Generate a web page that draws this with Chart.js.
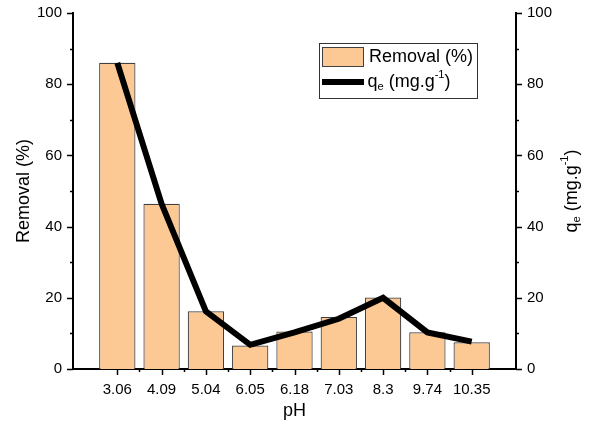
<!DOCTYPE html>
<html>
<head>
<meta charset="utf-8">
<script src="https://cdn.jsdelivr.net/npm/chart.js@4"></script>
<style>
  html, body { margin: 0; padding: 0; background: #fff; }
  #wrap { width: 594px; height: 426px; }
</style>
</head>
<body>
<div id="wrap"><canvas id="chart"></canvas></div>
<script>
// данные графика
const phLabels = ['', '3.06', '4.09', '5.04', '6.05', '6.18', '7.03', '8.3', '9.74', '10.35', ''];
const removalValues = [null, 86, 46.4, 16.2, 6.6, 10.5, 14.6, 20.1, 10.3, 7.5, null];
const qeValues = [null, 86, 46.4, 16.2, 6.8, 10.3, 14.1, 20.0, 10.3, 7.7, null];
const yTicks = [0, 20, 40, 60, 80, 100];

const FONT = '"Liberation Sans", Arial, sans-serif';

// текст с нижним/верхним индексом
function drawRich(ctx, parts, x, y, size) {
    let w = 0;
    parts.forEach(p => {
        ctx.font = (p.sub || p.sup ? size * 0.62 : size) + 'px ' + FONT;
        w += ctx.measureText(p.t).width;
    });
    let cx = x - w / 2;
    parts.forEach(p => {
        const s = p.sub || p.sup ? size * 0.62 : size;
        ctx.font = s + 'px ' + FONT;
        const dy = p.sub ? size * 0.28 : (p.sup ? -size * 0.38 : 0);
        ctx.fillText(p.t, cx, y + dy);
        cx += ctx.measureText(p.t).width;
    });
}

// подписи осей, деления и легенда
const decorPlugin = {
    id: 'decor',
    afterDraw(chart) {
        const ctx = chart.ctx;
        const a = chart.chartArea;
        const x = chart.scales.x, y = chart.scales.y, y2 = chart.scales.y2;
        ctx.save();
        ctx.strokeStyle = '#000';
        ctx.lineWidth = 1.5;
        ctx.beginPath();
        // деления по Y
        for (let v = 0; v <= 100; v += 10) {
            const len = v % 20 === 0 ? 6 : 3;
            const py = Math.round(y.getPixelForValue(v)) + 0.5;
            ctx.moveTo(a.left, py); ctx.lineTo(a.left - len, py);
            const py2 = Math.round(y2.getPixelForValue(v)) + 0.5;
            ctx.moveTo(a.right, py2); ctx.lineTo(a.right + len, py2);
        }
        // деления по X
        for (let i = 1; i < phLabels.length - 1; i++) {
            const px = Math.round(x.getPixelForValue(i)) + 0.5;
            ctx.moveTo(px, a.bottom); ctx.lineTo(px, a.bottom + 6);
            if (i < phLabels.length - 2) {
                const pm = Math.round((x.getPixelForValue(i) + x.getPixelForValue(i + 1)) / 2) + 0.5;
                ctx.moveTo(pm, a.bottom); ctx.lineTo(pm, a.bottom + 3);
            }
        }
        ctx.stroke();

        ctx.fillStyle = '#000';
        ctx.textBaseline = 'middle';
        // подпись оси X
        ctx.textAlign = 'center';
        ctx.font = '18px ' + FONT;
        ctx.fillText('pH', (a.left + a.right) / 2, 411);
        // левая ось
        ctx.save();
        ctx.translate(24, (a.top + a.bottom) / 2);
        ctx.rotate(-Math.PI / 2);
        ctx.fillText('Removal (%)', 0, 0);
        ctx.restore();
        // правая ось
        ctx.save();
        ctx.translate(572, (a.top + a.bottom) / 2);
        ctx.rotate(-Math.PI / 2);
        ctx.textAlign = 'left';
        drawRich(ctx, [{t: 'q'}, {t: 'e', sub: true}, {t: ' (mg.g'}, {t: '-1', sup: true}, {t: ')'}], 0, 0, 18);
        ctx.restore();

        // легенда
        const lx = a.left + 246, ly = 43;
        ctx.fillStyle = '#fff';
        ctx.fillRect(lx, ly, 158, 55);
        ctx.lineWidth = 1;
        ctx.strokeStyle = '#333';
        ctx.strokeRect(lx + 0.5, ly + 0.5, 158, 55);
        ctx.fillStyle = '#FCC995';
        ctx.fillRect(lx + 3, ly + 4, 41, 19);
        ctx.strokeStyle = '#404040';
        ctx.strokeRect(lx + 3.5, ly + 4.5, 41, 19);
        ctx.lineWidth = 6;
        ctx.strokeStyle = '#000';
        ctx.beginPath();
        ctx.moveTo(lx + 3, ly + 39); ctx.lineTo(lx + 45, ly + 39);
        ctx.stroke();
        ctx.fillStyle = '#000';
        ctx.textAlign = 'left';
        ctx.font = '18px ' + FONT;
        ctx.fillText('Removal (%)', lx + 50, ly + 14);
        drawRich(ctx, [{t: 'q'}, {t: 'e', sub: true}, {t: ' (mg.g'}, {t: '-1', sup: true}, {t: ')'}], lx + 90, ly + 39, 18);
        ctx.restore();
    }
};

// фиксированные размеры осей
function fixY(width) {
    return function (s) {
        s.width = width;
        s.paddingTop = 0;
        s.paddingBottom = 0;
    };
}

new Chart(document.getElementById('chart'), {
    type: 'bar',
    data: {
        labels: phLabels,
        datasets: [{
            type: 'line',
            label: 'qe',
            data: qeValues,
            yAxisID: 'y2',
            borderColor: '#000',
            borderWidth: 6,
            pointRadius: 0,
            tension: 0,
            borderJoinStyle: 'miter',
            order: 0
        }, {
            label: 'Removal (%)',
            data: removalValues,
            yAxisID: 'y',
            backgroundColor: '#FCC995',
            borderColor: '#404040',
            borderWidth: 1.2,
            categoryPercentage: 1,
            barPercentage: 0.82,
            order: 1
        }]
    },
    options: {
        responsive: true,
        maintainAspectRatio: false,
        animation: false,
        layout: { padding: { top: 13, left: 0, right: 0, bottom: 0 } },
        plugins: { legend: { display: false }, tooltip: { enabled: false } },
        scales: {
            x: {
                offset: false,
                grid: { display: false, drawTicks: false },
                border: { display: true, color: '#000', width: 2 },
                ticks: { autoSkip: false, maxRotation: 0, padding: 12, color: '#000', font: { family: FONT, size: 15 } },
                afterFit(s) { s.height = 57; s.paddingLeft = 0; s.paddingRight = 0; }
            },
            y: {
                position: 'left',
                min: 0, max: 100,
                afterBuildTicks(s) { s.ticks = yTicks.map(v => ({ value: v })); },
                grid: { display: false, drawTicks: false },
                border: { display: true, color: '#000', width: 2 },
                ticks: { padding: 11, color: '#000', font: { family: FONT, size: 15 } },
                afterFit: fixY(73)
            },
            y2: {
                position: 'right',
                min: 0, max: 100,
                afterBuildTicks(s) { s.ticks = yTicks.map(v => ({ value: v })); },
                grid: { display: false, drawTicks: false },
                border: { display: true, color: '#000', width: 2 },
                ticks: { padding: 11, color: '#000', font: { family: FONT, size: 15 } },
                afterFit: fixY(78)
            }
        }
    },
    plugins: [decorPlugin]
});
</script>
</body>
</html>
